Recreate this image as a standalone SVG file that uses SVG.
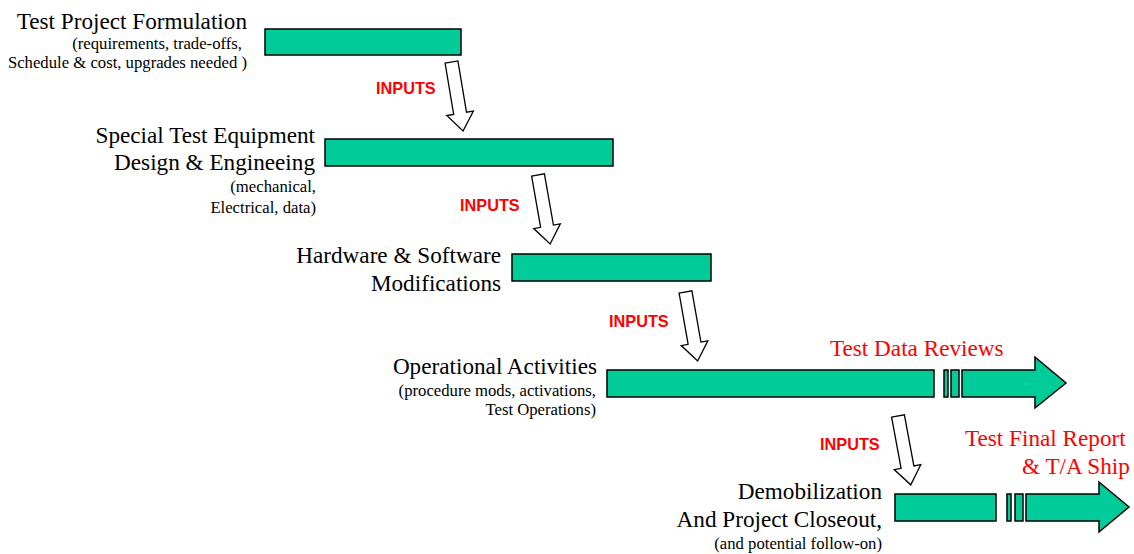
<svg xmlns="http://www.w3.org/2000/svg" width="1134" height="554" viewBox="0 0 1134 554">
<style>
.bar{fill:#00CC99;stroke:#000;stroke-width:1.5}
.t{font-family:"Liberation Serif","Times New Roman",serif;font-size:23.2px;fill:#000;text-anchor:end}
.s{font-family:"Liberation Serif","Times New Roman",serif;font-size:16.7px;fill:#000;text-anchor:end}
.r{font-family:"Liberation Serif","Times New Roman",serif;font-size:23.2px;fill:#FF0000}
.in{font-family:"Liberation Sans",Arial,sans-serif;font-size:16.3px;font-weight:bold;fill:#FF0000}
.ar{fill:#fff;stroke:#000;stroke-width:1.3}
</style>
<defs>
<path id="down" d="M-6.5,0 L6.5,0 L6.5,52 L13.5,52 L0,70 L-13.5,52 L-6.5,52 Z"/>
</defs>
<rect width="1134" height="554" fill="#fff"/>
<g id="task1">
<rect class="bar" x="265" y="29" width="196" height="26"/>
<text class="t" x="247" y="29">Test Project Formulation</text>
<text class="s" x="242" y="49">(requirements, trade-offs,</text>
<text class="s" x="247" y="68">Schedule &amp; cost, upgrades needed )</text>
</g>
<g id="task2">
<rect class="bar" x="325" y="139" width="288" height="27"/>
<text class="t" x="315" y="143">Special Test Equipment</text>
<text class="t" x="315" y="170">Design &amp; Engineeing</text>
<text class="s" x="316" y="192">(mechanical,</text>
<text class="s" x="316" y="213">Electrical, data)</text>
</g>
<g id="task3">
<rect class="bar" x="512" y="254" width="199" height="27"/>
<text class="t" x="501" y="263">Hardware &amp; Software</text>
<text class="t" x="501" y="291">Modifications</text>
</g>
<g id="task4">
<rect class="bar" x="607" y="370" width="327" height="27"/>
<rect class="bar" x="944" y="370" width="4" height="27"/>
<rect class="bar" x="951" y="370" width="8" height="27"/>
<polygon class="bar" points="962,370 1035,370 1035,357 1066,383 1035,408 1035,397 962,397"/>
<text class="t" x="597" y="374">Operational Activities</text>
<text class="s" x="596" y="396">(procedure mods, activations,</text>
<text class="s" x="596" y="415">Test Operations)</text>
<text class="r" x="830" y="356">Test Data Reviews</text>
</g>
<g id="task5">
<rect class="bar" x="895" y="494" width="101" height="27"/>
<rect class="bar" x="1007" y="494" width="4" height="27"/>
<rect class="bar" x="1015" y="494" width="8" height="27"/>
<polygon class="bar" points="1026,494 1099,494 1099,482 1129,507 1099,532 1099,521 1026,521"/>
<text class="t" x="882" y="499">Demobilization</text>
<text class="t" x="882" y="527">And Project Closeout,</text>
<text class="s" x="882" y="549">(and potential follow-on)</text>
<text class="r" x="965" y="446">Test Final Report</text>
<text class="r" x="1022" y="474">&amp; T/A Ship</text>
</g>
<g id="connectors">
<use href="#down" class="ar" transform="translate(451.5,62) rotate(-9.5)"/>
<text class="in" x="376" y="94">INPUTS</text>
<use href="#down" class="ar" transform="translate(538,175) rotate(-10)"/>
<text class="in" x="460" y="211">INPUTS</text>
<use href="#down" class="ar" transform="translate(685.5,292) rotate(-10)"/>
<text class="in" x="609" y="327">INPUTS</text>
<use href="#down" class="ar" transform="translate(898,416) rotate(-10.5)"/>
<text class="in" x="820" y="450">INPUTS</text>
</g>
</svg>
